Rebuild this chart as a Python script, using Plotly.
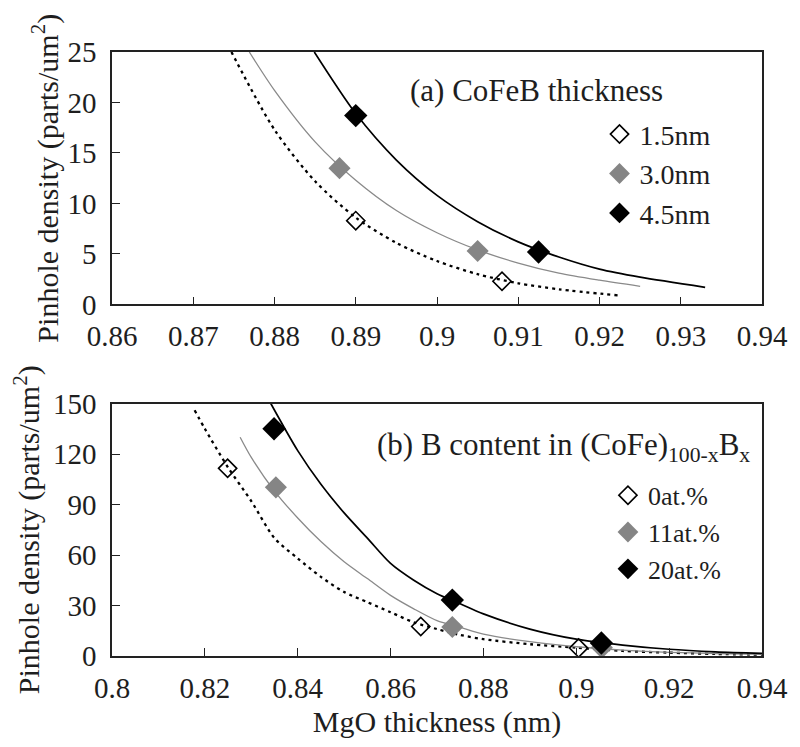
import plotly.graph_objects as go
from plotly.subplots import make_subplots

# ---------------- Panel (a): CoFeB thickness ----------------
a_labels = ["1.5nm", "3.0nm", "4.5nm"]
a_pts_x = {"1.5nm": [0.890, 0.908], "3.0nm": [0.888, 0.905], "4.5nm": [0.890, 0.9125]}
a_pts_y = {"1.5nm": [8.3, 2.3], "3.0nm": [13.5, 5.3], "4.5nm": [18.7, 5.2]}

a_fit_x = {
    "1.5nm": [0.8747, 0.88, 0.885, 0.89, 0.895, 0.90, 0.905, 0.91, 0.915, 0.9223],
    "3.0nm": [0.8769, 0.88, 0.885, 0.89, 0.895, 0.90, 0.905, 0.91, 0.915, 0.92, 0.925],
    "4.5nm": [0.8849, 0.89, 0.895, 0.90, 0.905, 0.91, 0.915, 0.92, 0.925, 0.933],
}
a_fit_y = {
    "1.5nm": [25, 17.3, 12.2, 8.6, 6.1, 4.3, 3.0, 2.1, 1.5, 0.9],
    "3.0nm": [25, 21.2, 16.1, 12.3, 9.3, 7.1, 5.4, 4.1, 3.1, 2.4, 1.8],
    "4.5nm": [25, 18.9, 14.3, 10.8, 8.2, 6.2, 4.7, 3.5, 2.7, 1.7],
}
a_xticks = [0.86, 0.87, 0.88, 0.89, 0.9, 0.91, 0.92, 0.93, 0.94]
a_xtick_text = ["0.86", "0.87", "0.88", "0.89", "0.9", "0.91", "0.92", "0.93", "0.94"]
a_yticks = [0, 5, 10, 15, 20, 25]

# ---------------- Panel (b): B content ----------------
b_labels = ["0at.%", "11at.%", "20at.%"]
b_pts_x = {"0at.%": [0.8249, 0.8665, 0.9005], "11at.%": [0.8353, 0.8733, 0.9055],
           "20at.%": [0.8349, 0.8733, 0.9054]}
b_pts_y = {"0at.%": [111.5, 17.5, 4.7], "11at.%": [100.2, 17.2, 5.0],
           "20at.%": [135.0, 33.2, 7.7]}

b_fit_x = {
    "0at.%": [0.8178, 0.82, 0.825, 0.83, 0.835, 0.84, 0.845, 0.85, 0.855, 0.86, 0.865,
              0.87, 0.875, 0.88, 0.89, 0.90, 0.91, 0.92, 0.93, 0.94],
    "11at.%": [0.8276, 0.83, 0.835, 0.84, 0.845, 0.85, 0.855, 0.86, 0.865, 0.87,
               0.875, 0.88, 0.89, 0.90, 0.91, 0.92, 0.93, 0.94],
    "20at.%": [0.8342, 0.84, 0.845, 0.85, 0.855, 0.86, 0.865, 0.87, 0.875, 0.88,
               0.89, 0.90, 0.91, 0.92, 0.93, 0.94],
}
b_fit_y = {
    "0at.%": [146, 135, 112, 92, 70, 58, 47, 38, 32, 26, 20, 16, 12.5, 10, 7, 5, 3, 2, 1.2, 0.8],
    "11at.%": [130, 118, 98, 82, 68, 56, 46, 36, 28, 21, 17, 13, 8.5, 5.5, 3.5, 2.2, 1.5, 1.0],
    "20at.%": [150, 122, 102, 85, 70, 55, 45, 37, 31, 25, 16, 10, 6.5, 4, 2.5, 1.6],
}
b_xticks = [0.8, 0.82, 0.84, 0.86, 0.88, 0.9, 0.92, 0.94]
b_xtick_text = ["0.8", "0.82", "0.84", "0.86", "0.88", "0.9", "0.92", "0.94"]
b_yticks = [0, 30, 60, 90, 120, 150]

FONT = "Liberation Serif, Times New Roman, serif"
TXT = "#1e1e1e"
marker_style = [
    dict(symbol="diamond-open", color="black", size=14, line=dict(width=1.6, color="black")),
    dict(symbol="diamond", color="#858585", size=17, line=dict(width=0)),
    dict(symbol="diamond", color="black", size=18, line=dict(width=0)),
]
line_style = [
    dict(color="black", width=2.3, dash="3px,4px", shape="spline", smoothing=0.8),
    dict(color="#8a8a8a", width=1.3, shape="spline", smoothing=0.8),
    dict(color="black", width=1.7, shape="spline", smoothing=0.8),
]

fig = make_subplots(rows=2, cols=1, vertical_spacing=0.164)

for i, lab in enumerate(a_labels):
    fig.add_trace(go.Scatter(x=a_fit_x[lab], y=a_fit_y[lab], mode="lines",
                             line=line_style[i], showlegend=False, hoverinfo="skip"),
                  row=1, col=1)
for i, lab in enumerate(a_labels):
    fig.add_trace(go.Scatter(x=a_pts_x[lab], y=a_pts_y[lab], mode="markers", name=lab,
                             marker=marker_style[i], legend="legend"), row=1, col=1)

for i, lab in enumerate(b_labels):
    fig.add_trace(go.Scatter(x=b_fit_x[lab], y=b_fit_y[lab], mode="lines",
                             line=line_style[i], showlegend=False, hoverinfo="skip"),
                  row=2, col=1)
for i in [1, 0, 2]:
    lab = b_labels[i]
    fig.add_trace(go.Scatter(x=b_pts_x[lab], y=b_pts_y[lab], mode="markers", name=lab,
                             marker=marker_style[i], legend="legend2",
                             legendrank=i + 1), row=2, col=1)

axis_common = dict(showline=True, linecolor="#222", linewidth=1.6, mirror=True,
                   ticks="inside", ticklen=8, tickwidth=1.4, tickcolor="#222",
                   showgrid=False, zeroline=False, ticklabeloverflow="allow",
                   tickfont=dict(family=FONT, size=29, color=TXT))

fig.update_xaxes(**axis_common)
fig.update_yaxes(**axis_common)

title_font = dict(family=FONT, size=30, color=TXT)
fig.update_xaxes(range=[0.86, 0.94], tickvals=a_xticks, ticktext=a_xtick_text,
                 ticklabelstandoff=5, row=1, col=1)
fig.update_yaxes(range=[0, 25], tickvals=a_yticks, ticklabelstandoff=8,
                 title=dict(text="Pinhole density (parts/um<sup>2</sup>)",
                            font=title_font, standoff=0),
                 row=1, col=1)
fig.update_xaxes(range=[0.8, 0.94], tickvals=b_xticks, ticktext=b_xtick_text,
                 ticklabelstandoff=5,
                 title=dict(text="MgO thickness (nm)", font=title_font, standoff=8),
                 row=2, col=1)
fig.update_yaxes(range=[0, 150], tickvals=b_yticks, ticklabelstandoff=8,
                 title=dict(text="Pinhole density (parts/um<sup>2</sup>)",
                            font=title_font, standoff=4),
                 row=2, col=1)

legend_common = dict(bgcolor="rgba(0,0,0,0)", borderwidth=0, itemwidth=30,
                     xanchor="left", yanchor="top", tracegroupgap=0,
                     traceorder="normal")
fig.update_layout(
    width=800, height=747,
    margin=dict(l=112, r=29, t=52, b=91),
    paper_bgcolor="white", plot_bgcolor="white",
    font=dict(family=FONT, size=29, color=TXT),
    legend=dict(x=0.750, y=0.905, font=dict(family=FONT, size=28, color=TXT),
                **legend_common),
    legend2=dict(x=0.763, y=0.305, font=dict(family=FONT, size=26, color=TXT),
                 **legend_common),
    annotations=[
        dict(text="(a) CoFeB thickness", xref="paper", yref="paper",
             x=0.455, y=0.937, xanchor="left", yanchor="middle", showarrow=False,
             font=dict(family=FONT, size=31, color=TXT)),
        dict(text="(b) B content in (CoFe)<sub>100-x</sub>B<sub>x</sub>", xref="paper",
             yref="paper", x=0.405, y=0.346, xanchor="left", yanchor="middle",
             showarrow=False, font=dict(family=FONT, size=31, color=TXT)),
    ],
)

fig.write_html("out.html", config={"displayModeBar": False},
               post_script="document.body.style.margin='0';"
                           "document.body.style.overflow='hidden';")
